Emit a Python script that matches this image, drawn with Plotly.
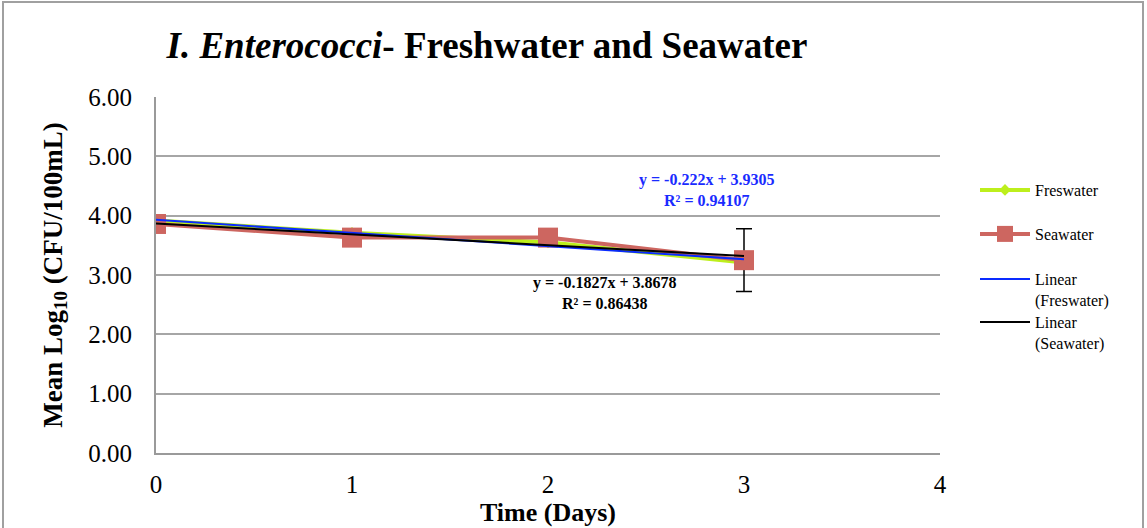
import plotly.graph_objects as go
import numpy as np

days = [0, 1, 2, 3]
freshwater = [3.92, 3.71, 3.55, 3.21]
seawater = [3.86, 3.63, 3.63, 3.25]
seawater_err = [0, 0, 0, 0.53]
fit_fresh = (-0.222, 3.9305, 0.94107)
fit_sea = (-0.1827, 3.8678, 0.86438)
y_ticks = [0, 1, 2, 3, 4, 5, 6]
x_ticks = [0, 1, 2, 3, 4]

serif = "Liberation Serif, Times New Roman, serif"
green = "#bdef1c"
red = "#cd6660"

fig = go.Figure()
fig.add_trace(go.Scatter(x=days, y=freshwater, name="Freswater", mode="lines+markers",
                         line=dict(color=green, width=4), legend="legend",
                         marker=dict(symbol="diamond", size=9, color=green)))
fig.add_trace(go.Scatter(x=days, y=seawater, name="Seawater", mode="lines+markers",
                         line=dict(color=red, width=4), legend="legend2",
                         marker=dict(symbol="square", size=20, color=red),
                         error_y=dict(type="data", array=seawater_err, color="black",
                                      thickness=1.5, width=8)))
xs = np.array([days[0], days[-1]], dtype=float)
fig.add_trace(go.Scatter(x=xs, y=fit_fresh[0] * xs + fit_fresh[1], mode="lines",
                         name="Linear<br>(Freswater)", legend="legend3",
                         line=dict(color="#0a2bff", width=2)))
fig.add_trace(go.Scatter(x=xs, y=fit_sea[0] * xs + fit_sea[1], mode="lines",
                         name="Linear<br>(Seawater)", legend="legend4",
                         line=dict(color="black", width=2)))

fig.add_annotation(x=2.81, y=4.44, xref="x", yref="y", showarrow=False,
                   text=f"<b>y = {fit_fresh[0]}x + {fit_fresh[1]}<br>R² = {fit_fresh[2]}</b>",
                   font=dict(family=serif, size=16, color="#1a2bff"), align="center")
fig.add_annotation(x=2.29, y=2.69, xref="x", yref="y", showarrow=False,
                   text=f"<b>y = {fit_sea[0]}x + {fit_sea[1]}<br>R² = {fit_sea[2]}</b>",
                   font=dict(family=serif, size=16, color="black"), align="center")

# outer border
W, H = 1147, 528
L, R, T, B = 156, 207, 97, 75
pw, ph = W - L - R, H - T - B
fig.add_shape(type="rect", xref="paper", yref="paper", layer="below",
              x0=(3 - L) / pw, x1=(1143 - L) / pw, y0=(H - B - 540) / ph, y1=(H - B - 2) / ph,
              line=dict(color="#a0a0a0", width=2))


def leg(top_px):
    return dict(x=(975 - L) / pw, y=(H - B - top_px) / ph, xanchor="left", yanchor="top",
                font=dict(family=serif, size=16, color="black"), valign="top",
                bgcolor="rgba(0,0,0,0)", itemwidth=50)


fig.update_layout(
    width=W, height=H, margin=dict(l=L, r=R, t=T, b=B, autoexpand=False),
    paper_bgcolor="white", plot_bgcolor="white",
    font=dict(family=serif, color="black"),
    title=dict(text="<b><i>I. Enterococci</i>- Freshwater and Seawater</b>",
               x=487 / W, xanchor="center", y=1 - 45 / H, yanchor="middle",
               font=dict(family=serif, size=37, color="black")),
    showlegend=True,
    legend=leg(173), legend2=leg(217), legend3=leg(262), legend4=leg(305),
    xaxis=dict(range=[0, 4], tickvals=x_ticks, ticktext=[str(v) for v in x_ticks],
               showgrid=False, zeroline=False, showline=True, linecolor="#9a9a9a", linewidth=2,
               ticks="outside", ticklen=8, tickcolor="rgba(0,0,0,0)",
               tickfont=dict(family=serif, size=25, color="black"),
               title=dict(text="<b>Time (Days)</b>", font=dict(family=serif, size=26), standoff=0)),
    yaxis=dict(range=[0, 6], tickvals=y_ticks, ticktext=[f"{v:.2f}" for v in y_ticks],
               showgrid=True, gridcolor="#a6a6a6", gridwidth=2, zeroline=False,
               showline=True, linecolor="#9a9a9a", linewidth=2,
               ticks="outside", ticklen=17, tickcolor="rgba(0,0,0,0)",
               tickfont=dict(family=serif, size=25, color="black"),
               title=dict(text="<b>Mean Log<sub>10</sub> (CFU/100mL)</b>",
                          font=dict(family=serif, size=27), standoff=18)),
)
fig.write_html("out.html", config={"displayModeBar": False})
with open("out.html", "r", encoding="utf-8") as f:
    html = f.read()
html = html.replace("<body>", '<body style="margin:0;padding:0">', 1)
with open("out.html", "w", encoding="utf-8") as f:
    f.write(html)
